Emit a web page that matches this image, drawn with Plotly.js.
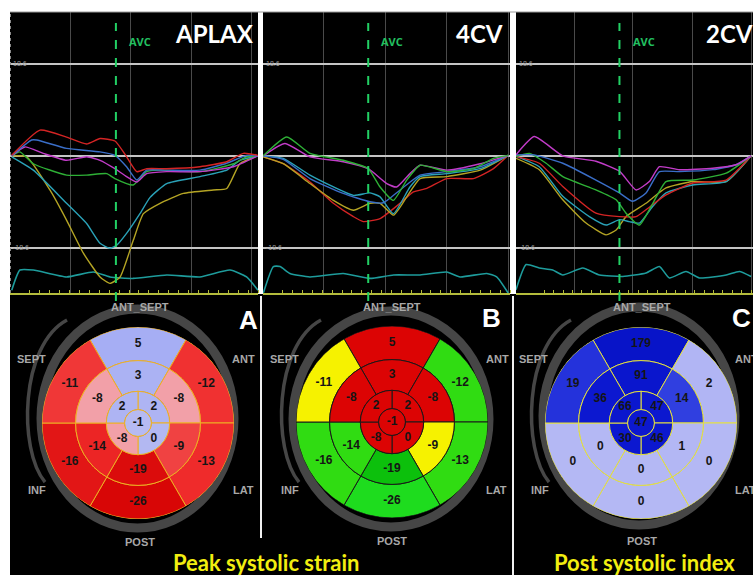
<!DOCTYPE html>
<html><head><meta charset="utf-8">
<script src="https://cdn.plot.ly/plotly-3.0.1.min.js"></script>
<style>html,body{margin:0;padding:0;background:#fff;}#chart{width:753px;height:575px;}</style>
</head><body><div id="chart"></div>
<script>
// ================= DATA =================
// Strain curves: time (% of cardiac cycle) and strain (%)
const APLAX_RED_T  = [0.7, 12.1, 22.8, 30.9, 36.3, 42.3, 46.4, 51.1, 55.1, 63.2, 76.6, 87.4, 94.1, 100];
const APLAX_RED_Y  = [0.1, 5.2, 3.8, 2.4, 3.5, 3.0, 0.3, -3.2, -2.6, -2.6, -2.2, -1.2, 0.5, 0.1];
const APLAX_BLUE_T = [0.7, 8.7, 10.8, 22.8, 36.3, 42.3, 47, 51.1, 55.1, 63.2, 76.6, 87.4, 95.4, 100];
const APLAX_BLUE_Y = [0, 3.2, 3.2, 1.5, 0.8, 0.1, -2.2, -4.9, -2.9, -2.9, -2.9, -1.5, 0.1, 0];
const APLAX_MAG_T  = [0.7, 6, 13.4, 22.8, 30.9, 36.3, 42.3, 47, 51.1, 55.1, 63.2, 76.6, 90.1, 100];
const APLAX_MAG_Y  = [0, 1.8, 0.5, -0.9, -0.2, -0.9, -2.6, -4.2, -5.3, -3.6, -3.2, -3.2, -2.2, 0];
const APLAX_GRN_T  = [0.7, 4, 9.4, 22.8, 30.9, 39, 42.3, 49.7, 55.1, 60.5, 76.6, 90.1, 95.4, 100];
const APLAX_GRN_Y  = [0, 0.8, -1.6, -3.9, -3.9, -3.6, -4.6, -5.9, -3.2, -2.9, -3.2, -1.6, -0.2, 0];
const APLAX_CYAN_T = [0.7, 9.4, 22.8, 30.9, 36.3, 40.3, 43, 47, 52.4, 56.5, 63.2, 76.6, 87.4, 92.7, 100];
const APLAX_CYAN_Y = [-0.2, -2.9, -9.6, -13.7, -17.7, -18.7, -18.1, -15.7, -11.7, -8.4, -5.6, -4.2, -2.9, -0.9, 0];
const APLAX_OLV_T  = [0.7, 6.7, 16.1, 22.8, 29.6, 36.3, 40.3, 44.4, 49.7, 53.8, 60.5, 69.9, 82, 87.4, 92.7, 100];
const APLAX_OLV_Y  = [0, -0.2, -6.9, -13, -19.7, -24.5, -25.8, -24.5, -17.1, -11.7, -9.6, -7.6, -6.9, -6.6, -1.6, 0];
const APLAX_ECG_T  = [0.7, 4, 9.4, 22.8, 33.6, 40.3, 49.7, 63.2, 76.6, 88.7, 95.4, 100];
const APLAX_ECG_Y  = [-27.2, -23.1, -23.1, -24.5, -23.5, -24.5, -24.8, -24.1, -24.5, -23.1, -24.5, -27.2];

const CV4_GRN_T  = [0.1, 9.6, 19, 32.5, 42.6, 47.4, 52.8, 58.2, 63.6, 74.4, 85.2, 93.3, 99.3];
const CV4_GRN_Y  = [0, 3.8, 0.5, -0.9, -2.6, -6.3, -9.0, -4.9, -1.9, -3.2, -2.6, -0.5, 0.1];
const CV4_MAG_T  = [0.1, 8.9, 19, 32.5, 42.6, 50.1, 54.1, 59.5, 63.6, 74.4, 87.9, 99.3];
const CV4_MAG_Y  = [0, 2.5, -0.2, -1.2, -2.6, -5.6, -6.3, -3.6, -1.9, -2.9, -1.6, 0.1];
const CV4_BLUE_T = [0.1, 8.2, 19, 32.5, 43.3, 48.7, 55.5, 63.6, 74.4, 87.9, 99.3];
const CV4_BLUE_Y = [0, -0.7, -4.6, -7.6, -9.3, -9.5, -6.9, -3.9, -3.2, -2.2, 0.1];
const CV4_CYAN_T = [0.1, 8.2, 19, 36.6, 43.3, 47.4, 52.8, 59.5, 63.6, 74.4, 87.9, 99.3];
const CV4_CYAN_Y = [0, -0.5, -3.9, -8.0, -7.5, -8.3, -11.7, -6.3, -4.2, -3.6, -2.6, 0.1];
const CV4_OLV_T  = [0.1, 8.2, 19, 28.5, 36.6, 43.3, 47.4, 52.8, 58.2, 63.6, 74.4, 87.9, 99.3];
const CV4_OLV_Y  = [-0.2, -1.6, -5.6, -9.0, -11.0, -9.6, -9.6, -12.0, -8.3, -4.6, -4.2, -2.9, 0.1];
const CV4_RED_T  = [0.1, 8.2, 19, 28.5, 36.6, 40.6, 47.4, 55.5, 60.9, 66.3, 74.4, 85.2, 93.3, 99.3];
const CV4_RED_Y  = [-0.2, -1.6, -5.3, -9.6, -12.3, -13.3, -12.7, -9.6, -7.3, -6.6, -4.6, -4.6, -2.6, 0.1];
const CV4_ECG_T  = [0.1, 4.2, 6.9, 10.9, 19, 32.5, 43.3, 52.8, 63.6, 74.4, 79.8, 90.6, 94.6, 99.3];
const CV4_ECG_Y  = [-27.8, -22.4, -22.4, -23.8, -24.5, -23.8, -24.8, -24.1, -24.1, -23.5, -24.5, -23.8, -24.5, -27.8];

const CV2_MAG_T  = [0, 7.8, 19.9, 34, 44, 51.1, 56.7, 61, 69.5, 83.7, 93.6, 100];
const CV2_MAG_Y  = [0.2, 3.9, 0, -1.1, -3.1, -6.9, -5.2, -2.2, -2.8, -2.5, -1.8, 0];
const CV2_BLUE_T = [0, 7.8, 19.9, 34, 44, 49.6, 55.3, 61, 69.5, 83.7, 93.6, 100];
const CV2_BLUE_Y = [0.2, 0.2, -1.5, -4.9, -7.5, -9.2, -7.5, -3.2, -3.2, -2.8, -1.8, 0];
const CV2_GRN_T  = [0, 5.7, 12.8, 19.9, 34, 42.6, 46.8, 52.5, 58.2, 63.8, 75.2, 89.4, 100];
const CV2_GRN_Y  = [-0.1, 0.5, -1.5, -4.2, -6.9, -8.9, -11.6, -14.0, -9.6, -5.2, -4.9, -3.5, 0];
const CV2_RED_T  = [0, 9.9, 19.9, 34, 44, 51.1, 55.3, 63.8, 75.2, 89.4, 100];
const CV2_RED_Y  = [-0.1, -1.5, -6.2, -11.6, -12.3, -12.3, -10.9, -7.9, -5.5, -4.9, 0];
const CV2_CYAN_T = [0, 9.9, 19.9, 31.2, 38.3, 44, 48.2, 52.5, 58.2, 63.8, 75.2, 89.4, 100];
const CV2_CYAN_Y = [-0.1, -2.2, -8.2, -12.3, -14.0, -12.9, -13.3, -13.6, -10.2, -7.5, -5.9, -5.2, 0];
const CV2_OLV_T  = [0, 9.9, 19.9, 29.8, 38.3, 42.6, 46.8, 55.3, 63.8, 75.2, 89.4, 100];
const CV2_OLV_Y  = [-0.5, -2.8, -8.9, -13.6, -16.0, -15.0, -12.3, -9.6, -6.5, -5.2, -5.2, 0];
const CV2_ECG_T  = [0, 4.3, 9.9, 15.6, 19.9, 28.4, 35.5, 45.4, 55.3, 61, 65.2, 72.3, 78, 89.4, 95, 100];
const CV2_ECG_Y  = [-27.1, -22.0, -22.7, -23.1, -24.1, -22.7, -24.1, -24.4, -23.7, -22.4, -24.7, -23.4, -24.7, -24.1, -23.4, -24.4];

// Aortic valve closure time (% of cycle) for APLAX, 4CV, 2CV
const AVC_T = [42.7, 42.6, 44.0];
const VIEW_NAMES = ['APLAX', '4CV', '2CV'];

// 17-segment bull's-eye values
// basal & mid order: ANT_SEPT, ANT, LAT, POST, INF, SEPT ; apical: upper-right, lower-right, lower-left, upper-left
const STRAIN_BASAL  = [5, -12, -13, -26, -16, -11];
const STRAIN_MID    = [3, -8, -9, -19, -14, -8];
const STRAIN_APICAL = [2, 0, -8, 2];
const STRAIN_APEX   = [-1];
const PSI_BASAL  = [179, 2, 0, 0, 0, 19];
const PSI_MID    = [91, 14, 1, 0, 0, 36];
const PSI_APICAL = [47, 46, 30, 66];
const PSI_APEX   = [47];
const WALL_LABELS = ['ANT_SEPT', 'SEPT', 'ANT', 'INF', 'LAT', 'POST'];
const PANEL_LETTERS = ['A', 'B', 'C'];
const CAPTIONS = ['Peak systolic strain', 'Post systolic index'];

// ================= BUILD =================
const W = 753, H = 575;
const PX = p => p / W, PY = p => 1 - p / H;
const COL = {red:'#d42424', blue:'#3a6ec8', mag:'#c23cc8', grn:'#2eb036', cyan:'#2aa2b8', olv:'#b4a424', ecg:'#1e9c9c'};

const traces = [];
function line(t, y, color, ax, w) {
  traces.push({type:'scatter', mode:'lines', x:t, y:y, xaxis:'x'+ax, yaxis:'y'+ax,
    line:{color:color, width:w||1.4, shape:'spline', smoothing:0.5}, hoverinfo:'skip'});
}
line(APLAX_ECG_T, APLAX_ECG_Y, COL.ecg, '', 1.6);
line(APLAX_OLV_T, APLAX_OLV_Y, COL.olv, '');
line(APLAX_CYAN_T, APLAX_CYAN_Y, COL.cyan, '');
line(APLAX_GRN_T, APLAX_GRN_Y, COL.grn, '');
line(APLAX_MAG_T, APLAX_MAG_Y, COL.mag, '');
line(APLAX_BLUE_T, APLAX_BLUE_Y, COL.blue, '');
line(APLAX_RED_T, APLAX_RED_Y, COL.red, '');

line(CV4_ECG_T, CV4_ECG_Y, COL.ecg, '2', 1.6);
line(CV4_RED_T, CV4_RED_Y, COL.red, '2');
line(CV4_OLV_T, CV4_OLV_Y, COL.olv, '2');
line(CV4_CYAN_T, CV4_CYAN_Y, COL.cyan, '2');
line(CV4_BLUE_T, CV4_BLUE_Y, COL.blue, '2');
line(CV4_MAG_T, CV4_MAG_Y, COL.mag, '2');
line(CV4_GRN_T, CV4_GRN_Y, COL.grn, '2');

line(CV2_ECG_T, CV2_ECG_Y, COL.ecg, '3', 1.6);
line(CV2_OLV_T, CV2_OLV_Y, COL.olv, '3');
line(CV2_CYAN_T, CV2_CYAN_Y, COL.cyan, '3');
line(CV2_RED_T, CV2_RED_Y, COL.red, '3');
line(CV2_GRN_T, CV2_GRN_Y, COL.grn, '3');
line(CV2_BLUE_T, CV2_BLUE_Y, COL.blue, '3');
line(CV2_MAG_T, CV2_MAG_Y, COL.mag, '3');

// Bull's-eye geometry (radial axis 0..100)
const TH6 = [0, 60, 120, 180, 240, 300], TH4 = [45, 135, 225, 315];
function bullseye(basal, mid, apical, apex, polar, cscale, cmin, cmax, edge) {
  const vals = basal.concat(mid, apical, apex);
  const theta = TH6.concat(TH6, TH4, [0]);
  const width = Array(6).fill(60).concat(Array(6).fill(60), Array(4).fill(90), [360]);
  const base = Array(6).fill(65).concat(Array(6).fill(33), Array(4).fill(14), [0]);
  const rr = Array(6).fill(35).concat(Array(6).fill(32), Array(4).fill(19), [14]);
  traces.push({type:'barpolar', subplot:polar, r:rr, base:base, theta:theta, width:width,
    marker:{color:vals, colorscale:cscale, cmin:cmin, cmax:cmax, showscale:false, line:{color:edge, width:1}},
    hoverinfo:'skip'});
  const tr = Array(6).fill(82).concat(Array(6).fill(49), Array(4).fill(23.5), [0]);
  traces.push({type:'scatterpolar', subplot:polar, mode:'text', r:tr, theta:theta,
    text:vals.map(String), textfont:{family:'Liberation Sans, Arial', size:12, color:'#151515', weight:'bold'},
    hoverinfo:'skip'});
}
const P = v => (v + 26) / 31;
const SCALE_A = [[0,'#d80606'],[P(-17),'#dc0e0e'],[P(-14.5),'#ea2222'],[P(-12.5),'#f02e2e'],[P(-8.7),'#f04444'],[P(-8),'#f2a0a8'],[P(-4),'#f0b8c8'],[P(-1),'#b6baf2'],[1,'#a6aef4']];
const SCALE_B = [[0,'#1edc1e'],[P(-22),'#1cd41c'],[P(-20.5),'#0cc00c'],[P(-17.5),'#0cc00c'],[P(-17.5),'#30dc12'],[P(-11.5),'#30dc12'],[P(-11.5),'#f6f200'],[P(-8.5),'#f6f200'],[P(-8.5),'#dc0404'],[1,'#dc0404']];
const SCALE_C = [[0,'#b4b8f4'],[0.015,'#b0b4f4'],[0.06,'#3848e4'],[0.16,'#0c18d0'],[1,'#0814c8']];
bullseye(STRAIN_BASAL, STRAIN_MID, STRAIN_APICAL, STRAIN_APEX, 'polar', SCALE_A, -26, 5, '#eeb024');
bullseye(STRAIN_BASAL, STRAIN_MID, STRAIN_APICAL, STRAIN_APEX, 'polar2', SCALE_B, -26, 5, '#1a1a1a');
bullseye(PSI_BASAL, PSI_MID, PSI_APICAL, PSI_APEX, 'polar3', SCALE_C, 0, 179, '#e4e040');

function polarAx(cx, cy, rad) {
  return {domain:{x:[PX(cx-rad), PX(cx+rad)], y:[PY(cy+rad), PY(cy-rad)]}, bgcolor:'rgba(0,0,0,0)',
    radialaxis:{visible:false, range:[0,100]},
    angularaxis:{visible:false, rotation:90, direction:'clockwise'}};
}
const yDom = [PY(293), PY(12)];
function xax(l, r, rng, grid) {
  return {domain:[PX(l), PX(r)], range:rng, tickvals:grid, showticklabels:false, gridcolor:'#4a4a4a', gridwidth:1,
    zeroline:false, showline:true, linecolor:'#b4bc3c', linewidth:2, ticks:'',
    minor:{dtick:4, ticks:'inside', ticklen:3, tickcolor:'#b4bc3c', showgrid:false}};
}
function yax(anchor) {
  return {anchor:anchor, domain:yDom, range:[-27.75, 29.1], tickvals:[-18.6, 0, 18.6], ticktext:['-18.6','','18.6'],
    ticklabelposition:'inside', tickfont:{size:7, color:'#9a9a9a', family:'Liberation Sans'},
    showgrid:true, gridcolor:'#c4c4c4', gridwidth:1.5, zeroline:false, showline:false, ticks:''};
}

const shapes = [];
shapes.push({type:'rect', xref:'paper', yref:'paper', x0:PX(10), x1:1, y0:0, y1:PY(294), fillcolor:'#000', line:{width:0}, layer:'below'});
// gray rings
[[41,234,309,528],[293,489,311,527],[543,735,307,525]].forEach(e => shapes.push({type:'circle', xref:'paper', yref:'paper',
  x0:PX(e[0]), x1:PX(e[1]), y0:PY(e[3]), y1:PY(e[2]), line:{color:'#464646', width:9}, layer:'below'}));
[0, 254, 504].forEach(dx => {
  const p = (x, y) => PX(x + dx).toFixed(4) + ',' + PY(y).toFixed(4);
  shapes.push({type:'path', xref:'paper', yref:'paper', path:'M' + p(67,320) + ' C' + p(20,345) + ' ' + p(18,450) + ' ' + p(45,482),
    line:{color:'#464646', width:3.5}, layer:'below'});
});
// panel frame lines
shapes.push({type:'line', xref:'paper', yref:'paper', x0:PX(10), x1:1, y0:PY(12), y1:PY(12), line:{color:'#9a9a9a', width:1}});
shapes.push({type:'line', xref:'paper', yref:'paper', x0:PX(10.5), x1:PX(10.5), y0:PY(293), y1:PY(12), line:{color:'#8a8a8a', width:1, dash:'dot'}});
// panel separators
shapes.push({type:'line', xref:'paper', yref:'paper', x0:PX(261), x1:PX(261), y0:PY(538), y1:PY(296), line:{color:'#f0f0f0', width:2}});
shapes.push({type:'line', xref:'paper', yref:'paper', x0:PX(513), x1:PX(513), y0:0, y1:PY(296), line:{color:'#f0f0f0', width:2}});
// AVC lines
['x','x2','x3'].forEach((xr, i) => shapes.push({type:'line', xref:xr, yref:'paper', x0:AVC_T[i], x1:AVC_T[i],
  y0:PY(301), y1:PY(23), line:{color:'#22d064', width:2, dash:'dash'}}));

const annotations = [];
function ann(text, x, y, size, color, family, xanchor) {
  annotations.push({text:'<b>' + text + '</b>', xref:'paper', yref:'paper', x:PX(x), y:PY(y), showarrow:false,
    xanchor:xanchor || 'center', yanchor:'middle', font:{size:size, color:color, family:family || 'Liberation Sans, Arial'}});
}
ann(VIEW_NAMES[0], 214, 33, 24, '#fff', 'Lato');
ann(VIEW_NAMES[1], 479, 33, 24, '#fff', 'Lato');
ann(VIEW_NAMES[2], 729, 33, 24, '#fff', 'Lato');
[140, 392, 644].forEach(x => ann('AVC', x, 41, 11, '#22c060', 'Open Sans'));
const wallPos = [
  [[140,307],[31,359],[243,359],[37,490],[243,490],[140,542]],
  [[392,307],[284,359],[497,359],[290,490],[496,490],[392,541]],
  [[642,307],[533,359],[733,359,'left'],[540,490],[733,490,'left'],[642,541]]];
wallPos.forEach(set => set.forEach((p, i) => ann(WALL_LABELS[i], p[0], p[1], 11, '#a8a8a8', 'Liberation Sans, Arial', p[2])));
ann(PANEL_LETTERS[0], 248, 320, 26, '#fff', 'Liberation Sans, Arial');
ann(PANEL_LETTERS[1], 491, 318, 26, '#fff', 'Liberation Sans, Arial');
ann(PANEL_LETTERS[2], 741, 318, 26, '#fff', 'Liberation Sans, Arial');
ann(CAPTIONS[0], 266, 562, 22, '#f2ee10', 'Lato');
ann(CAPTIONS[1], 644, 562, 22, '#f2ee10', 'Lato');

const layout = {
  width:W, height:H, margin:{l:0, r:0, t:0, b:0}, paper_bgcolor:'#fff', plot_bgcolor:'#000', showlegend:false,
  xaxis: xax(10, 258, [0, 100], [24.2, 48.4, 73.3, 97.4]),
  xaxis2: xax(263, 510, [0, 100], [24.4, 49.4, 74.4, 99.3]),
  xaxis3: xax(516, 753, [0, 100.8], [24.8, 49.6, 75.2, 100]),
  yaxis: yax('x'), yaxis2: yax('x2'), yaxis3: yax('x3'),
  polar: polarAx(138, 423, 96), polar2: polarAx(392, 422, 96), polar3: polarAx(641, 423, 96),
  shapes: shapes, annotations: annotations
};
layout.xaxis.anchor = 'y'; layout.xaxis2.anchor = 'y2'; layout.xaxis3.anchor = 'y3';
Plotly.newPlot('chart', traces, layout, {displayModeBar:false, staticPlot:true});
</script></body></html>
